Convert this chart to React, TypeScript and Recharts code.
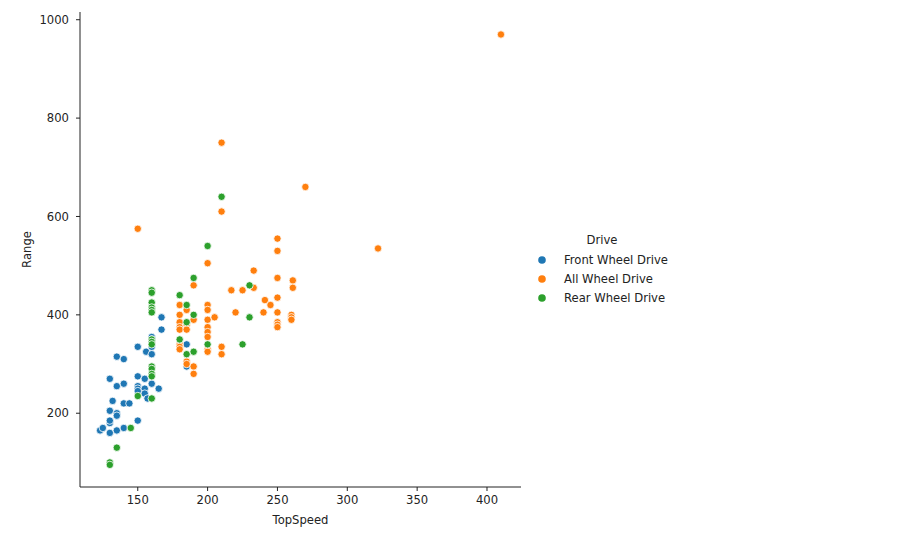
import { Legend, Scatter, ScatterChart, XAxis, YAxis } from "recharts";

// TopSpeed (km/h) and Range (km) per drive type
const fwdSpeed = [123, 125, 130, 130, 130, 130, 130, 132, 135, 135, 135, 135, 135, 140, 140, 140, 140, 144, 150, 150, 150, 150, 150, 150, 155, 155, 155, 157, 156, 160, 160, 160, 160, 160, 165, 167, 167, 185, 185];
const fwdRange = [165, 170, 160, 180, 185, 205, 270, 225, 315, 255, 200, 195, 165, 310, 260, 220, 170, 220, 335, 275, 255, 250, 245, 185, 270, 250, 240, 230, 325, 355, 350, 335, 320, 260, 250, 395, 370, 340, 295];

const awdSpeed = [150, 180, 180, 180, 180, 180, 180, 180, 180, 185, 185, 185, 185, 185, 190, 190, 190, 190, 200, 200, 200, 200, 200, 200, 200, 200, 200, 205, 210, 210, 210, 210, 217, 220, 225, 233, 233, 240, 241, 245, 250, 250, 250, 250, 250, 250, 250, 250, 260, 260, 260, 261, 261, 270, 322, 410];
const awdRange = [575, 420, 400, 385, 375, 370, 340, 335, 330, 410, 380, 370, 305, 300, 460, 390, 295, 280, 505, 420, 410, 390, 375, 365, 355, 330, 325, 395, 750, 610, 335, 320, 450, 405, 450, 490, 455, 405, 430, 420, 555, 530, 475, 435, 405, 385, 380, 375, 400, 395, 390, 470, 455, 660, 535, 970];

const rwdSpeed = [130, 130, 135, 145, 150, 160, 160, 160, 160, 160, 160, 160, 160, 160, 160, 160, 160, 160, 160, 180, 180, 185, 185, 185, 190, 190, 190, 200, 200, 210, 225, 230, 230];
const rwdRange = [100, 95, 130, 170, 235, 450, 445, 425, 415, 410, 405, 350, 345, 340, 295, 290, 280, 275, 230, 440, 350, 420, 385, 320, 475, 400, 325, 540, 340, 640, 340, 460, 395];

const xTicks = [150, 200, 250, 300, 350, 400];
const yTicks = [200, 400, 600, 800, 1000];

const seriesNames = ["Front Wheel Drive", "All Wheel Drive", "Rear Wheel Drive"];
const seriesColors = ["#1f77b4", "#ff7f0e", "#2ca02c"];

const toPoints = (xs: number[], ys: number[]) =>
  xs.map((x, i) => ({ TopSpeed: x, Range: ys[i] }));

const series = [
  toPoints(fwdSpeed, fwdRange),
  toPoints(awdSpeed, awdRange),
  toPoints(rwdSpeed, rwdRange),
];

const FONT = "'DejaVu Sans', sans-serif";
const TEXT = "#222";

const dot = (color: string) => (props: any) => (
  <circle cx={props.cx} cy={props.cy} r={3.7} fill={color} stroke="#fff" strokeWidth={0.8} />
);

function DriveLegend() {
  const rows = [260, 279, 298];
  return (
    <div style={{ position: "relative", width: 170, height: 90, fontFamily: FONT, fontSize: 11.6, color: TEXT, lineHeight: "14px" }}>
      <div style={{ position: "absolute", left: 72, top: 5, transform: "translateX(-50%)", whiteSpace: "nowrap" }}>Drive</div>
      {seriesNames.map((name, i) => (
        <div key={name}>
          <svg style={{ position: "absolute", left: 7, top: rows[i] - 228 - 5 }} width={10} height={10}>
            <circle cx={5} cy={5} r={3.8} fill={seriesColors[i]} />
          </svg>
          <div style={{ position: "absolute", left: 34, top: rows[i] - 228 - 7, whiteSpace: "nowrap" }}>{name}</div>
        </div>
      ))}
    </div>
  );
}

export default function App() {
  return (
    <div style={{ position: "absolute", left: 0, top: 0, width: 910, height: 535, background: "#fff" }}>
      <ScatterChart width={910} height={535} margin={{ top: 12, right: 389, bottom: 0, left: 0 }}>
        <XAxis
          type="number"
          dataKey="TopSpeed"
          domain={[108.65, 424.35]}
          ticks={xTicks}
          allowDataOverflow
          height={48}
          stroke={TEXT}
          tickSize={4}
          tickMargin={5}
          tick={{ fill: TEXT, fontSize: 11.6, fontFamily: FONT }}
          label={(p: any) => {
            const vb = p.viewBox;
            return (
              <text x={vb.x + vb.width / 2} y={vb.y + 37} textAnchor="middle" fill={TEXT} fontSize={11.6} fontFamily={FONT}>
                TopSpeed
              </text>
            );
          }}
        />
        <YAxis
          type="number"
          dataKey="Range"
          domain={[50, 1015.7]}
          ticks={yTicks}
          allowDataOverflow
          width={80}
          stroke={TEXT}
          tickSize={4}
          tickMargin={7}
          tick={{ fill: TEXT, fontSize: 11.6, fontFamily: FONT }}
          label={(p: any) => {
            const vb = p.viewBox;
            const cx = 31;
            const cy = vb.y + vb.height / 2;
            return (
              <text x={cx} y={cy} transform={`rotate(-90 ${cx} ${cy})`} textAnchor="middle" fill={TEXT} fontSize={11.6} fontFamily={FONT}>
                Range
              </text>
            );
          }}
        />
        {series.map((pts, i) => (
          <Scatter
            key={seriesNames[i]}
            name={seriesNames[i]}
            data={pts}
            fill={seriesColors[i]}
            shape={dot(seriesColors[i])}
            isAnimationActive={false}
          />
        ))}
        <Legend
          layout="horizontal"
          align="center"
          verticalAlign="middle"
          wrapperStyle={{ left: 530, top: 228, width: 170, height: 90 }}
          content={() => <DriveLegend />}
        />
      </ScatterChart>
    </div>
  );
}
